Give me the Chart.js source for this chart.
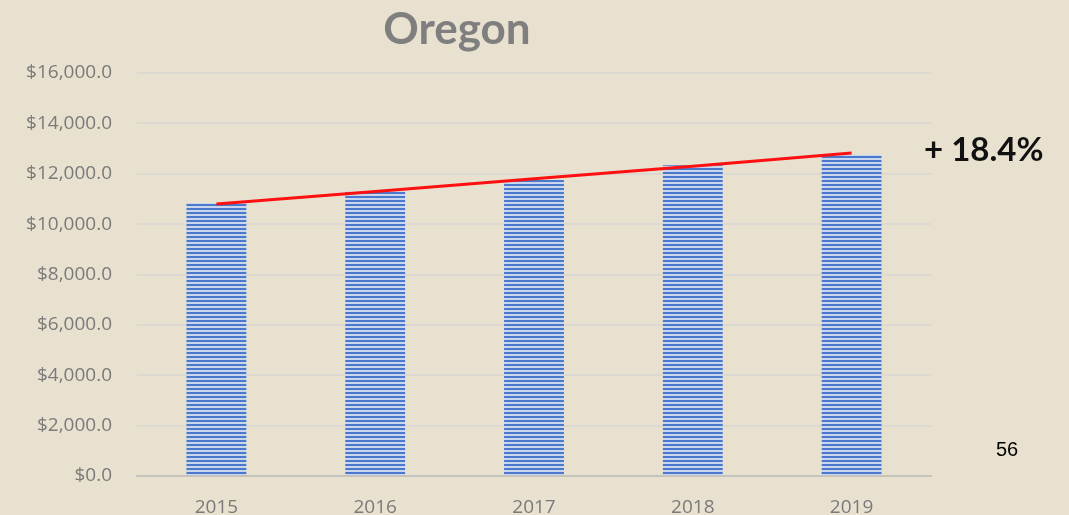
<!DOCTYPE html>
<html>
<head>
<meta charset="utf-8">
<script src="https://cdn.jsdelivr.net/npm/chart.js@4/dist/chart.umd.min.js"></script>
<style>
  html, body { margin: 0; padding: 0; background: #e8e1d0; }
  .wrap { position: relative; width: 1069px; height: 515px; overflow: hidden; }
  canvas { position: absolute; left: 0; top: 0; }
  .title { position: absolute; left: 307px; width: 300px; top: 5px; text-align: center;
           font: bold 44px/44px Lato, sans-serif; color: #7f7f7f; }
  .growth { position: absolute; left: 924px; top: 132px; font: bold 33px/33px Lato, sans-serif; color: #111; }
  .page { position: absolute; left: 996px; top: 438px; font: 20px "Liberation Sans", Arial, sans-serif; color: #000; }
</style>
</head>
<body>
<div class="wrap">
  <canvas id="oregon" width="1069" height="515"></canvas>
  <div class="title">Oregon</div>
  <div class="growth">+ 18.4%</div>
  <div class="page">56</div>
</div>
<script>
const years = ['2015', '2016', '2017', '2018', '2019'];
const revenue = [10830, 11300, 11750, 12340, 12750];
const trend = [10800, 11300, 11800, 12300, 12820];
const yTicks = [0, 2000, 4000, 6000, 8000, 10000, 12000, 14000, 16000];

// striped fill like the excel pattern
const makeStripes = () => {
    const c = document.createElement('canvas');
    c.width = 4; c.height = 4;
    const cx = c.getContext('2d');
    cx.fillStyle = '#c9d6ee';
    cx.fillRect(0, 0, 4, 4);
    cx.fillStyle = '#4a78cc';
    cx.fillRect(0, 0, 4, 2);
    return cx.createPattern(c, 'repeat');
};

const ctx = document.getElementById('oregon').getContext('2d');
new Chart(ctx, {
    data: {
        labels: years,
        datasets: [
            {
                type: 'line',
                data: trend,
                borderColor: '#ff1010',
                borderWidth: 3,
                pointRadius: 0,
                tension: 0,
                order: 0
            },
            {
                type: 'bar',
                data: revenue,
                backgroundColor: makeStripes(),
                barPercentage: 0.377,
                categoryPercentage: 1,
                order: 1
            }
        ]
    },
    options: {
        responsive: false,
        animation: false,
        layout: { padding: { left: 0, right: 138, top: 73, bottom: 0 } },
        plugins: { legend: { display: false }, tooltip: { enabled: false } },
        scales: {
            x: {
                grid: { display: false },
                border: { color: '#c6c3bc', width: 2 },
                ticks: { color: '#7a7a7a', font: { family: 'Open Sans', size: 19 }, padding: 12 },
                afterFit: (s) => { s.height = 39; }
            },
            y: {
                min: 0,
                max: 16000,
                afterBuildTicks: (s) => { s.ticks = yTicks.map(v => ({ value: v })); },
                grid: { color: '#dcd9d3', lineWidth: 2, drawTicks: false },
                border: { display: false },
                ticks: {
                    color: '#7a7a7a',
                    font: { family: 'Open Sans', size: 19 },
                    padding: 25,
                    callback: (v) => '$' + v.toLocaleString('en-US') + '.0'
                },
                afterFit: (s) => { s.width = 137; }
            }
        }
    }
});
</script>
</body>
</html>
